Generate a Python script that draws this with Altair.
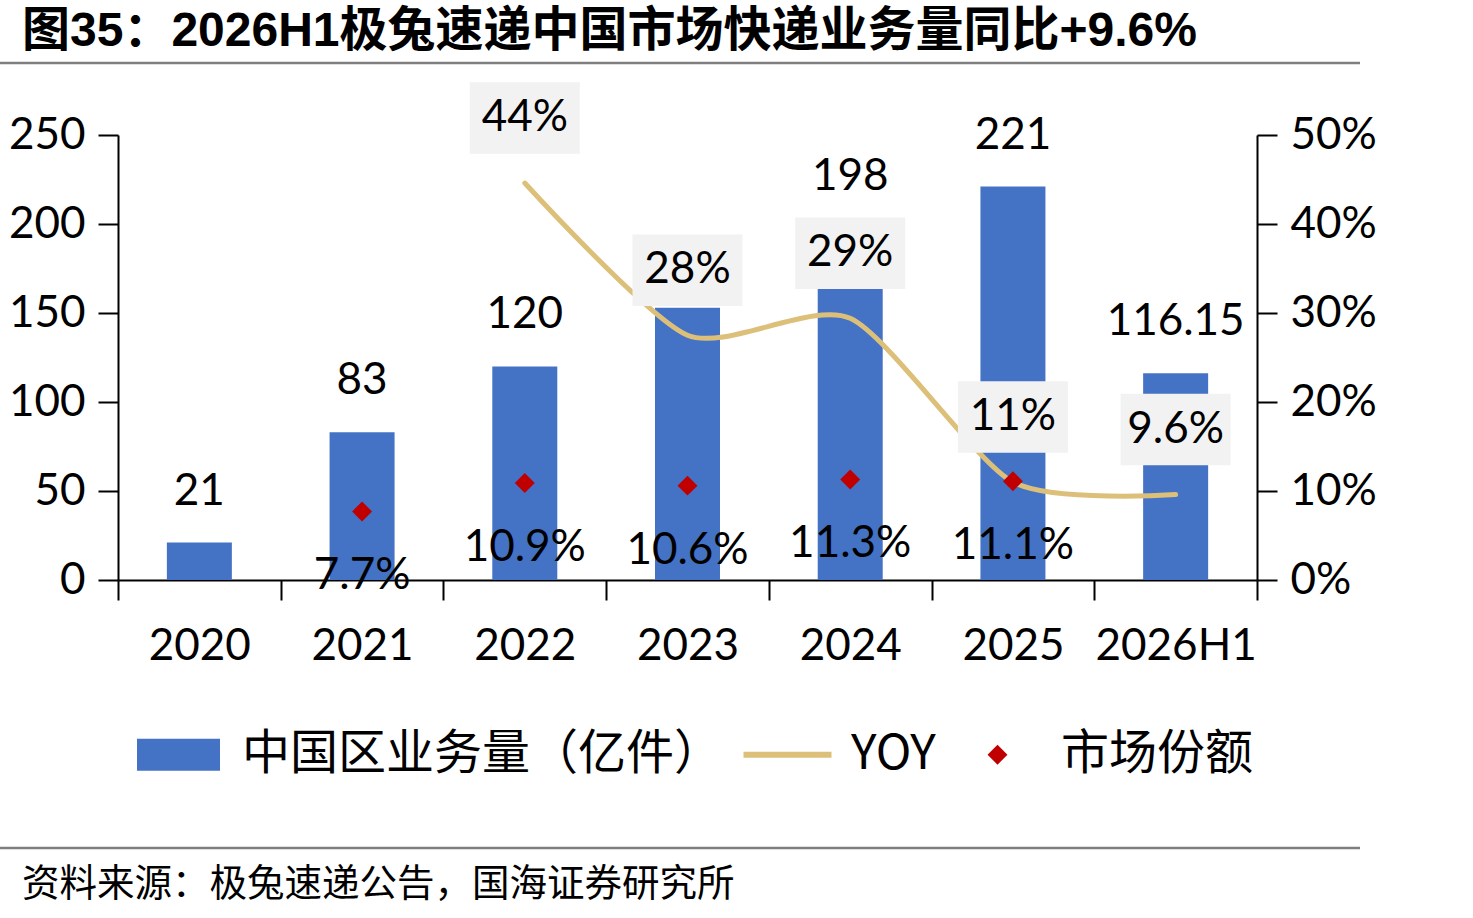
import altair as alt
import pandas as pd

# ---- data ----
years = ["2020", "2021", "2022", "2023", "2024", "2025", "2026H1"]
volume = [21, 83, 120, 153, 198, 221, 116.15]          # 中国区业务量（亿件）
volume_labels = ["21", "83", "120", "", "198", "221", "116.15"]  # 2023 label is hidden in the source
yoy = [None, None, 0.446, 0.275, 0.294, 0.110, 0.096]   # YOY
yoy_labels = ["", "", "44%", "28%", "29%", "11%", "9.6%"]
share = [None, 0.077, 0.109, 0.106, 0.113, 0.111, None]  # 市场份额

series_names = ["中国区业务量（亿件）", "YOY", "市场份额"]
BLUE, GOLD, RED = "#4472C4", "#DCC07A", "#C00000"

df = pd.DataFrame({"year": years, "volume": volume, "volume_label": volume_labels,
                   "yoy": yoy, "yoy_label": yoy_labels, "share": share})

NUM_FONT = "Lato"
CJK = "'Noto Sans CJK SC'"
FS = 44

x_enc = alt.X("year:N", sort=years, title=None,
              scale=alt.Scale(paddingInner=0, paddingOuter=0),
              axis=alt.Axis(labelAngle=0, tickBand="extent", tickSize=20,
                            labelPadding=24, labelFontSize=FS, labelFont=NUM_FONT))

RECT_PATH = "M-1,-0.385H1V0.385H-1Z"
LINE_PATH = "M-1.06,-0.07H1.06V0.07H-1.06Z"
DIAMOND_PATH = "M0,-0.24L0.24,0L0,0.24L-0.24,0Z"
SYM = 6889

color_scale = alt.Scale(domain=series_names, range=[BLUE, GOLD, RED])
shape_scale = alt.Scale(domain=series_names, range=[RECT_PATH, LINE_PATH, DIAMOND_PATH])


def make_legend():
    return alt.Legend(
        orient="none", legendX=19, legendY=578, direction="horizontal",
        title=None, padding=0, symbolSize=SYM, labelOffset=22, columnPadding=20,
        labelFont=CJK, labelFontSize=48, labelColor="black",
        labelLimit=800, labelBaseline="middle", symbolStrokeWidth=0,
        symbolOpacity=1,
    )


color_enc = alt.Color("series:N", scale=color_scale, legend=make_legend())
shape_enc = alt.Shape("series:N", scale=shape_scale, legend=make_legend())

# ---- left axis group: volume bars ----
y_left = alt.Y("volume:Q", title=None,
               scale=alt.Scale(domain=[0, 250], nice=False),
               axis=alt.Axis(values=[0, 50, 100, 150, 200, 250], tickSize=20,
                             labelPadding=13, labelFontSize=FS, labelFont=NUM_FONT))

base = alt.Chart(df)

bars = base.mark_bar(width=65).transform_calculate(
    series="'中国区业务量（亿件）'"
).encode(x=x_enc, y=y_left, color=color_enc)

bar_labels = base.mark_text(dy=-51, fontSize=FS, font=NUM_FONT, color="black",
                            baseline="middle").encode(
    x=alt.X("year:N", sort=years),
    y=alt.Y("volume:Q"),
    text=alt.Text("volume_label:N"),
)

left = alt.layer(bars, bar_labels)

# ---- right axis group: YOY line + market share ----
y_right = alt.Y("yoy:Q", title=None,
                scale=alt.Scale(domain=[0, 0.5], nice=False),
                axis=alt.Axis(orient="right", format=".0%",
                              values=[0, 0.1, 0.2, 0.3, 0.4, 0.5], tickSize=20,
                              labelPadding=13, labelFontSize=FS, labelFont=NUM_FONT))

yoy_base = base.transform_filter("isValid(datum.yoy)")

line = yoy_base.mark_line(interpolate="cardinal", tension=0.3, strokeWidth=5,
                          strokeCap="round").transform_calculate(
    series="'YOY'"
).encode(x=alt.X("year:N", sort=years), y=y_right, color=color_enc)

boxes = yoy_base.mark_point(shape="M-1,-0.65H1V0.65H-1Z", size=12100, filled=True,
                            color="#F2F2F2", opacity=1, strokeWidth=0,
                            yOffset=-65).encode(
    x=alt.X("year:N", sort=years), y=alt.Y("yoy:Q"))

box_text = yoy_base.mark_text(yOffset=-65, fontSize=FS, font=NUM_FONT,
                              color="black", baseline="middle").encode(
    x=alt.X("year:N", sort=years), y=alt.Y("yoy:Q"), text="yoy_label:N")

share_base = base.transform_filter("isValid(datum.share)")

diamonds = share_base.mark_point(filled=True, size=SYM, opacity=1,
                                 strokeWidth=0).transform_calculate(
    series="'市场份额'"
).encode(x=alt.X("year:N", sort=years), y=alt.Y("share:Q"),
         color=color_enc, shape=shape_enc)

share_text = share_base.mark_text(dy=65, fontSize=FS, font=NUM_FONT,
                                  color="black", baseline="middle").encode(
    x=alt.X("year:N", sort=years), y=alt.Y("share:Q"),
    text=alt.Text("share:Q", format=".1%"))

right = alt.layer(line, boxes, box_text, diamonds, share_text)

# ---- title, source and separator lines ----
one = alt.Chart(pd.DataFrame({"k": [0]}))
title = one.mark_text(text="图35：2026H1极兔速递中国市场快递业务量同比+9.6%",
                      font=f"'Liberation Sans', {CJK}", fontSize=48,
                      fontWeight="bold", align="left", baseline="middle",
                      color="black").encode(x=alt.value(-96), y=alt.value(-103))
source = one.mark_text(text="资料来源：极兔速递公告，国海证券研究所",
                       font=CJK, fontSize=37.5, align="left", baseline="middle",
                       color="black").encode(x=alt.value(-96), y=alt.value(750))
rule_top = one.mark_rule(color="#7F7F7F", strokeWidth=2.5).encode(
    x=alt.value(-118), x2=alt.value(1242), y=alt.value(-72))
rule_bottom = one.mark_rule(color="#7F7F7F", strokeWidth=2.5).encode(
    x=alt.value(-118), x2=alt.value(1242), y=alt.value(713))

chart = alt.layer(
    left, right, title, source, rule_top, rule_bottom
).resolve_scale(y="independent").properties(
    width=1139, height=445,
    autosize=alt.AutoSizeParams(type="none"),
    padding={"left": 118, "top": 135, "right": 216, "bottom": 338},
    background="white",
).configure_view(stroke=None).configure_axis(
    domainColor="black", domainWidth=2, tickColor="black", tickWidth=2,
    labelColor="black", grid=False,
)

chart.save("out.html", embed_options={"renderer": "svg", "actions": False})
